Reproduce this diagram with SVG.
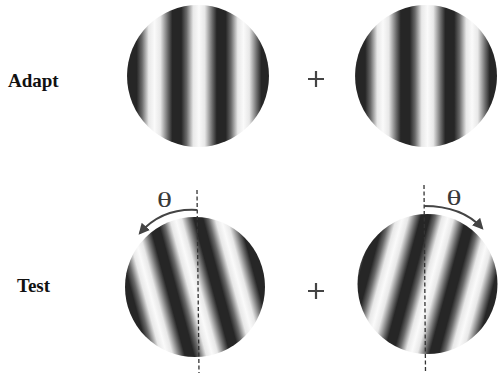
<svg xmlns="http://www.w3.org/2000/svg" width="499" height="373" viewBox="0 0 499 373">
<style>
.lbl{font-family:"Liberation Serif","Times New Roman",serif;font-weight:bold;font-size:19px;fill:#111}
.th{font-family:"Liberation Serif","Times New Roman",serif;font-size:22px;fill:#3a3a3a}
.plus{stroke:#444;stroke-width:2.2;fill:none}
.dash{stroke:#333;stroke-width:1.3;stroke-dasharray:4 2.5;fill:none}
.arc{stroke:#444;stroke-width:2;fill:none}
</style>
<defs>
<linearGradient id="gTL" gradientUnits="userSpaceOnUse" x1="154.5" y1="0" x2="199" y2="0" spreadMethod="repeat">
<stop offset="0" stop-color="#fafafa"/><stop offset="0.13" stop-color="#e8e8e8"/><stop offset="0.3" stop-color="#6a6a6a"/><stop offset="0.4" stop-color="#262626"/><stop offset="0.6" stop-color="#262626"/><stop offset="0.72" stop-color="#6a6a6a"/><stop offset="0.87" stop-color="#e8e8e8"/><stop offset="1" stop-color="#fafafa"/>
</linearGradient>
<linearGradient id="gTR" href="#gTL" x1="383" x2="427.5"/>
<linearGradient id="gBL" href="#gTL" x1="194" x2="238" gradientTransform="rotate(-15 195 287)"/>
<linearGradient id="gBR" href="#gTL" x1="430" x2="474" gradientTransform="rotate(15 427 284)"/>
<marker id="ah" viewBox="0 0 10 10" refX="8" refY="5" markerWidth="5.5" markerHeight="5.5" orient="auto" markerUnits="strokeWidth">
<path d="M0,0 L10,5 L0,10 Z" fill="#444"/>
</marker>
</defs>
<rect width="499" height="373" fill="#fff"/>
<g id="adapt-left"><circle cx="198" cy="76" r="71" fill="url(#gTL)"/></g>
<g id="adapt-right"><circle cx="426" cy="76" r="71" fill="url(#gTR)"/></g>
<g id="test-left"><circle cx="195" cy="287" r="70" fill="url(#gBL)"/></g>
<g id="test-right"><circle cx="427.5" cy="284" r="70" fill="url(#gBR)"/></g>
<g id="labels">
<text class="lbl" x="8" y="87">Adapt</text>
<text class="lbl" x="17" y="292">Test</text>
<text class="th" x="157" y="207" textLength="15" lengthAdjust="spacingAndGlyphs">θ</text>
<text class="th" x="446.5" y="205" textLength="15" lengthAdjust="spacingAndGlyphs">θ</text>
</g>
<g id="plus-top"><path class="plus" d="M308,79 H324 M316,71 V87"/></g>
<g id="plus-bottom"><path class="plus" d="M308,291 H324 M316,283 V299"/></g>
<g id="connectors">
<path class="dash" d="M197,190 L199,373"/>
<path class="dash" d="M424,185 L425.5,373"/>
<path class="arc" d="M197,210 Q162,208 140,233" marker-end="url(#ah)"/>
<path class="arc" d="M424,206 Q462,206 482,228" marker-end="url(#ah)"/>
</g>
</svg>
